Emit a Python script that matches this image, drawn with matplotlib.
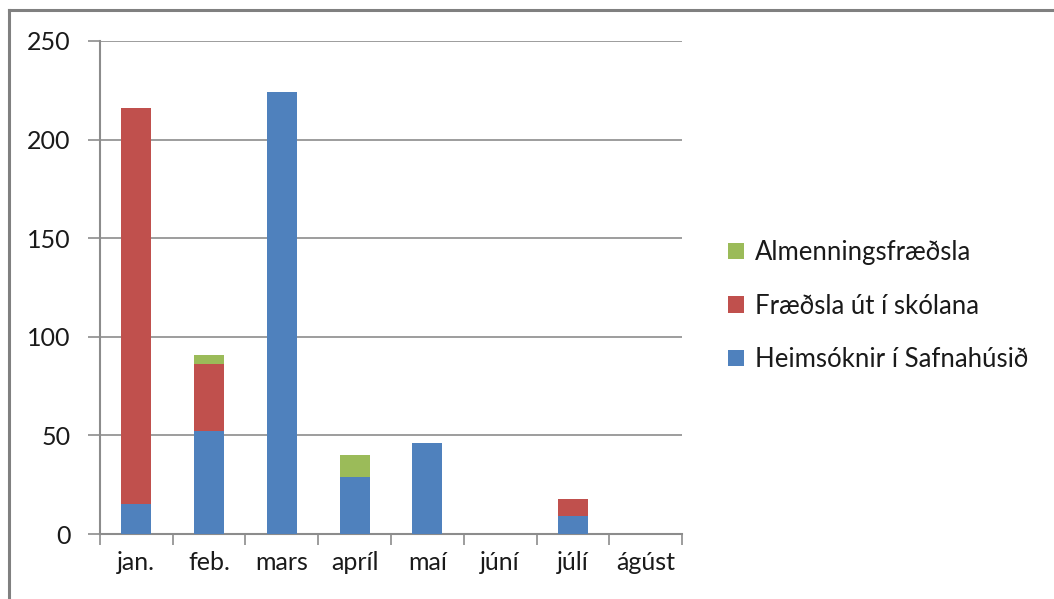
import matplotlib
matplotlib.use("Agg")
import matplotlib.pyplot as plt
from matplotlib.lines import Line2D
from matplotlib.patches import Patch
import numpy as np

plt.rcParams['font.family'] = ['Lato', 'DejaVu Sans']

months = ["jan.", "feb.", "mars", "apríl", "maí", "júní", "júlí", "ágúst"]
heimsoknir = [15, 52, 224, 29, 46, 0, 9, 0]
fraedsla_skolar = [201, 34, 0, 0, 0, 0, 9, 0]
almenn = [0, 5, 0, 11, 0, 0, 0, 0]
series_names = ["Heimsóknir í Safnahúsið", "Fræðsla út í skólana", "Almenningsfræðsla"]
colors = ["#4F81BD", "#C0504D", "#9BBB59"]
yticks = [0, 50, 100, 150, 200, 250]

W, H = 1054, 599
fig = plt.figure(figsize=(W / 100, H / 100), dpi=100)
ax = fig.add_axes([100 / W, (H - 534) / H, (682 - 100) / W, (534 - 41) / H])

x = np.arange(len(months))
bw = 0.41
b1 = np.array(heimsoknir)
b2 = np.array(fraedsla_skolar)
b3 = np.array(almenn)
ax.bar(x, b1, bw, color=colors[0], zorder=3)
ax.bar(x, b2, bw, bottom=b1, color=colors[1], zorder=3)
ax.bar(x, b3, bw, bottom=b1 + b2, color=colors[2], zorder=3)

ax.set_xlim(-0.5, len(months) - 0.5)
ax.set_ylim(0, 250)
ax.set_yticks(yticks)
ax.set_yticklabels([str(v) for v in yticks], fontsize=18, color="#1a1a1a")
ax.tick_params(axis='y', direction='out', length=9, width=1.2, color="#8c8c8c", pad=12)

ax.set_xticks(np.arange(len(months) + 1) - 0.5)
ax.set_xticklabels([])
ax.tick_params(axis='x', which='major', direction='out', length=8, width=1.2, color="#8c8c8c")
ax.set_xticks(x, minor=True)
ax.set_xticklabels(months, minor=True, fontsize=18, color="#1a1a1a")
ax.tick_params(axis='x', which='minor', length=0, pad=12)

ax.grid(axis='y', color="#8c8c8c", linewidth=1.2, zorder=0)
for s in ['top', 'right']:
    ax.spines[s].set_visible(False)
for s in ['left', 'bottom']:
    ax.spines[s].set_color("#8c8c8c")
    ax.spines[s].set_linewidth(1.5)

handles = [Patch(facecolor=colors[i], edgecolor='none') for i in [2, 1, 0]]
labels = [series_names[i] for i in [2, 1, 0]]
fig.legend(handles, labels, loc='center left', bbox_to_anchor=(705 / W, 1 - 306 / H),
           frameon=False, fontsize=18.5, handlelength=0.6, handleheight=0.6,
           handletextpad=0.45, labelspacing=1.1, labelcolor="#1a1a1a")

fig.add_artist(Line2D([9 / W, 9 / W], [0, 1 - 10 / H], transform=fig.transFigure,
                      color="#808080", linewidth=2.2))
fig.add_artist(Line2D([9 / W, 1], [1 - 10 / H, 1 - 10 / H], transform=fig.transFigure,
                      color="#808080", linewidth=2.2))

fig.savefig("out.png", dpi=100)
